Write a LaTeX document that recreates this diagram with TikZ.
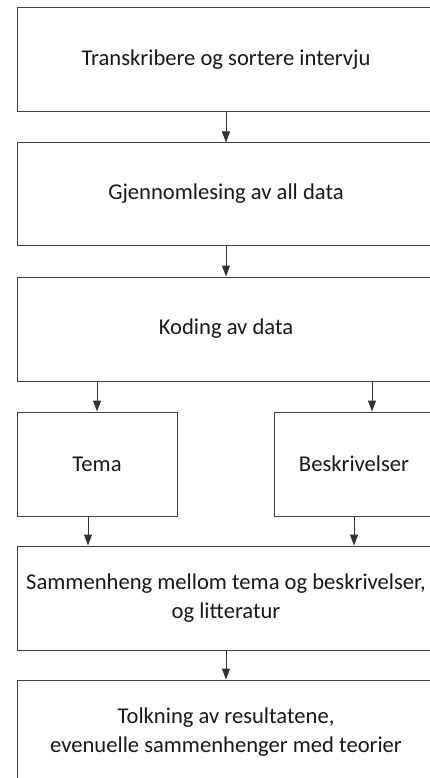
\documentclass[tikz,border=0pt]{standalone}
\usepackage{fontspec}
\setmainfont{Carlito}
\usetikzlibrary{arrows.meta}
\begin{document}
\begin{tikzpicture}[x=1pt,y=-1pt,
  box/.style={draw=black!75,line width=1pt,rectangle,inner sep=0pt,align=center,
    font=\fontsize{22.6}{29}\selectfont,text=black!90},
  conn/.style={draw=black!80,line width=1pt,-{Triangle[width=8pt,length=11pt]}}]
\useasboundingbox (0,0) rectangle (430,778);
\clip (0,0) rectangle (430,778);
\fill[white] (0,0) rectangle (430,778);
\node[box,minimum width=418,minimum height=104] (trans) at (226,60) {Transkribere og sortere intervju};
\node[box,minimum width=418,minimum height=102] (gjen) at (226,194) {Gjennomlesing av all data};
\node[box,minimum width=418,minimum height=104] (kod) at (226,329) {Koding av data};
\node[box,minimum width=160,minimum height=104] (tema) at (97,464) {Tema};
\node[box,minimum width=160,minimum height=104] (besk) at (354,464) {Beskrivelser};
\node[box,minimum width=418,minimum height=104] (samm) at (226,598) {Sammenheng mellom tema og beskrivelser,\\og litteratur};
\node[box,minimum width=418,minimum height=104] (tolk) at (226,732) {Tolkning av resultatene,\\evenuelle sammenhenger med teorier};
\coordinate (bin) at ([xshift=18pt]besk.north);
\coordinate (tout) at ([xshift=-9pt]tema.south);
\draw[conn] (trans.south) -- (gjen.north);
\draw[conn] (gjen.south) -- (kod.north);
\draw[conn] (kod.south -| tema.north) -- (tema.north);
\draw[conn] (kod.south -| bin) -- (bin);
\draw[conn] (tout) -- (tout |- samm.north);
\draw[conn] (besk.south) -- (besk.south |- samm.north);
\draw[conn] (samm.south) -- (tolk.north);
\end{tikzpicture}
\end{document}
